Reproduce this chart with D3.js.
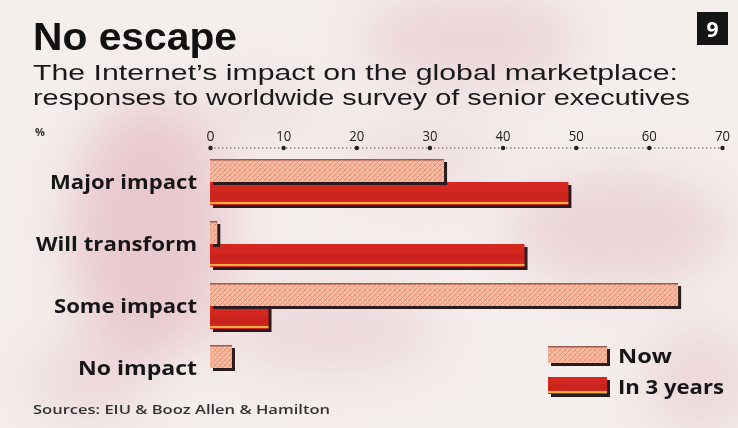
<!DOCTYPE html>
<html>
<head>
<meta charset="utf-8">
<script src="https://cdn.jsdelivr.net/npm/d3@7"></script>
<style>
  html, body { margin: 0; padding: 0; background: #f4eeec; }
  svg { display: block; }
</style>
</head>
<body>
<svg id="chart" width="738" height="428"></svg>
<script>
// Survey responses, % of senior executives
const categories = ["Major impact", "Will transform", "Some impact", "No impact"];
const seriesNames = ["Now", "In 3 years"];
const nowValues = [32, 1, 64, 3];
const in3YearsValues = [49, 43, 8, 0];
const tickValues = [0, 10, 20, 30, 40, 50, 60, 70];

const svg = d3.select("#chart");
const W = 738, H = 428;
const defs = svg.append("defs");

// soft mottled paper background
const blur = defs.append("filter").attr("id", "haze")
  .attr("x", "-50%").attr("y", "-50%").attr("width", "200%").attr("height", "200%");
blur.append("feGaussianBlur").attr("stdDeviation", 26);

svg.append("rect").attr("width", W).attr("height", H).attr("fill", "#f4eeec");
const blobs = [
  [150, 230, 80, 130, 0.5], [470, 40, 110, 45, 0.35], [620, 230, 110, 55, 0.35],
  [330, 330, 110, 45, 0.28], [90, 380, 60, 45, 0.28], [700, 380, 55, 55, 0.3],
  [420, 160, 80, 35, 0.22], [260, 110, 60, 25, 0.22]
];
const hazeG = svg.append("g").attr("filter", "url(#haze)");
blobs.forEach(b => {
  hazeG.append("ellipse").attr("cx", b[0]).attr("cy", b[1]).attr("rx", b[2]).attr("ry", b[3])
    .attr("fill", "#dea4b2").attr("opacity", b[4]);
});

// hatch pattern for the "Now" bars
const pat = defs.append("pattern").attr("id", "hatch")
  .attr("patternUnits", "userSpaceOnUse").attr("width", 5).attr("height", 5);
pat.append("rect").attr("width", 5).attr("height", 5).attr("fill", "#f7bca3");
pat.append("path").attr("d", "M0,5 L5,0 M-1,1 L1,-1 M4,6 L6,4")
  .attr("stroke", "#e58b70").attr("stroke-width", 1);
pat.append("path").attr("d", "M0,0 L5,5").attr("stroke", "#eea286").attr("stroke-width", 0.8);

const sans = "'Open Sans', sans-serif";
const headSans = "'Liberation Sans', Arial, sans-serif";

// Titles
svg.append("text").attr("x", 33).attr("y", 50)
  .attr("font-family", headSans).attr("font-weight", 700)
  .attr("font-size", 39).attr("fill", "#111")
  .attr("textLength", 204).attr("lengthAdjust", "spacingAndGlyphs")
  .text("No escape");

svg.append("rect").attr("x", 697).attr("y", 12).attr("width", 31).attr("height", 33).attr("fill", "#151515");
svg.append("text").attr("x", 712.5).attr("y", 37).attr("text-anchor", "middle")
  .attr("font-family", sans).attr("font-weight", 700)
  .attr("font-size", 21).attr("fill", "#fff").text("9");

svg.append("text").attr("x", 33).attr("y", 80)
  .attr("font-family", headSans).attr("font-size", 22).attr("fill", "#1a1a1a")
  .attr("textLength", 645).attr("lengthAdjust", "spacingAndGlyphs")
  .text("The Internet\u2019s impact on the global marketplace:");
svg.append("text").attr("x", 33).attr("y", 105)
  .attr("font-family", headSans).attr("font-size", 22).attr("fill", "#1a1a1a")
  .attr("textLength", 657).attr("lengthAdjust", "spacingAndGlyphs")
  .text("responses to worldwide survey of senior executives");

svg.append("text").attr("x", 35).attr("y", 136)
  .attr("font-family", sans).attr("font-weight", 700)
  .attr("font-size", 11).attr("fill", "#333").text("%");

// Scales
const x = d3.scaleLinear().domain([0, 70]).range([210, 722]);
const y0 = d3.scaleBand().domain(categories).range([159, 391]).paddingInner(16 / 62).paddingOuter(0);
const y1 = d3.scaleBand().domain(seriesNames).range([0, y0.bandwidth()]);

// Axis on top
const axisY = 148;
svg.append("line").attr("x1", x(0)).attr("x2", x(70) + 3).attr("y1", axisY).attr("y2", axisY)
  .attr("stroke", "#555").attr("stroke-width", 1).attr("stroke-dasharray", "1.5,2.5");
const axis = svg.append("g").attr("transform", `translate(0,${axisY})`)
  .call(d3.axisTop(x).tickValues(tickValues).tickSize(0).tickPadding(7));
axis.select(".domain").remove();
axis.selectAll(".tick text")
  .attr("font-family", sans).attr("font-size", 15).attr("fill", "#222")
  .attr("textLength", d => d === 0 ? 8 : 15).attr("lengthAdjust", "spacingAndGlyphs");
axis.selectAll(".tick").append("circle").attr("r", 2.2).attr("fill", "#222");

// Bars
const rows = categories.map((c, i) => ({ cat: c, values: [nowValues[i], in3YearsValues[i]] }));
const shadow = 3;

function drawBar(g, x0, yTop, w, h, series) {
  if (w <= 0) return;
  g.append("rect").attr("x", x0 + shadow).attr("y", yTop + shadow).attr("width", w).attr("height", h)
    .attr("fill", "#2a1b1e");
  if (series === 0) {
    g.append("rect").attr("x", x0).attr("y", yTop).attr("width", w).attr("height", h).attr("fill", "url(#hatch)");
    g.append("rect").attr("x", x0).attr("y", yTop).attr("width", w).attr("height", 1.5).attr("fill", "#9a5a4c");
  } else {
    g.append("rect").attr("x", x0).attr("y", yTop).attr("width", w).attr("height", h).attr("fill", "#d3271f");
    g.append("rect").attr("x", x0).attr("y", yTop + h * 0.45).attr("width", w).attr("height", h * 0.3)
      .attr("fill", "#c4201b").attr("opacity", 0.6);
    g.append("rect").attr("x", x0).attr("y", yTop + h - 3).attr("width", w).attr("height", 2)
      .attr("fill", "#e9b04a");
  }
}

const barsG = svg.append("g");
// draw "In 3 years" first so the "Now" bar sits over its shadow
[1, 0].forEach(s => {
  rows.forEach(r => {
    const v = r.values[s];
    const yTop = y0(r.cat) + y1(seriesNames[s]);
    drawBar(barsG, x(0), yTop, x(v) - x(0), y1.bandwidth(), s);
  });
});

// Category labels
const labelWidths = { "Major impact": 147, "Will transform": 161, "Some impact": 143, "No impact": 119 };
svg.append("g").selectAll("text").data(categories).join("text")
  .attr("x", 197).attr("y", d => y0(d) + y0.bandwidth() / 2 + 7)
  .attr("text-anchor", "end")
  .attr("font-family", sans).attr("font-weight", 700)
  .attr("font-size", 19).attr("fill", "#161616")
  .attr("textLength", d => labelWidths[d]).attr("lengthAdjust", "spacingAndGlyphs")
  .text(d => d);

// Legend
const legend = svg.append("g");
const legendWidths = [54, 106];
seriesNames.forEach((name, i) => {
  const ly = 346 + i * 31;
  drawBar(legend, 548, ly, 59, 17, i);
  legend.append("text").attr("x", 618).attr("y", ly + 17)
    .attr("font-family", sans).attr("font-weight", 700)
    .attr("font-size", 20).attr("fill", "#161616")
    .attr("textLength", legendWidths[i]).attr("lengthAdjust", "spacingAndGlyphs")
    .text(name);
});

// Source
svg.append("text").attr("x", 33).attr("y", 414)
  .attr("font-family", sans).attr("font-weight", 600).attr("font-size", 12).attr("fill", "#333")
  .attr("textLength", 297).attr("lengthAdjust", "spacingAndGlyphs")
  .text("Sources: EIU & Booz Allen & Hamilton");
</script>
</body>
</html>
